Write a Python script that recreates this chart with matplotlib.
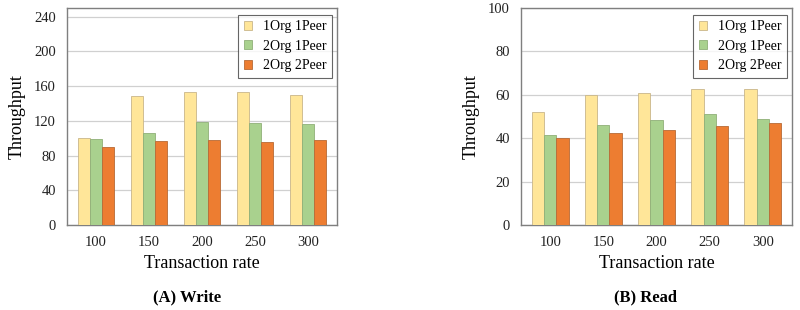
import matplotlib
matplotlib.use("Agg")
import matplotlib.pyplot as plt
import numpy as np

plt.rcParams['font.family'] = ['Liberation Serif', 'DejaVu Serif']

rates = ["100", "150", "200", "250", "300"]
series_names = ["1Org 1Peer", "2Org 1Peer", "2Org 2Peer"]
write_1org1peer = [100, 149, 153, 153, 150]
write_2org1peer = [99, 106, 119, 117, 116]
write_2org2peer = [90, 97, 98, 96, 98]
read_1org1peer = [52, 59.7, 61, 62.5, 62.7]
read_2org1peer = [41.3, 46, 48.3, 51, 49]
read_2org2peer = [40.2, 42.4, 44, 45.7, 47.2]
write_ticks = [0, 40, 80, 120, 160, 200, 240]
read_ticks = [0, 20, 40, 60, 80, 100]

colors = ["#FFE699", "#A9D18E", "#ED7D31"]
edges = ["#C9B68A", "#8FAF78", "#B86A35"]

W, H = 800, 310
fig = plt.figure(figsize=(W/100, H/100), dpi=100)

def make_ax(left, right, top, bottom):
    return fig.add_axes([left/W, 1-bottom/H, (right-left)/W, (bottom-top)/H])

axA = make_ax(67, 337, 8, 225)
axB = make_ax(521, 792, 8, 225)

def draw(ax, data, ticks, ylim):
    x = np.arange(len(rates))
    bw = 0.23
    for i, (vals, c, ec, name) in enumerate(zip(data, colors, edges, series_names)):
        ax.bar(x + (i-1)*bw, vals, bw, color=c, edgecolor=ec, linewidth=0.6, label=name, zorder=3)
    ax.set_xlim(-0.55, 4.55)
    ax.set_ylim(*ylim)
    ax.set_yticks(ticks)
    ax.set_xticks(x)
    ax.set_xticklabels(rates)
    ax.yaxis.grid(True, color="#d0d0d0", linewidth=0.9, zorder=0)
    ax.set_axisbelow(True)
    for s in ax.spines.values():
        s.set_color("#7f7f7f")
        s.set_linewidth(1.0)
    ax.tick_params(length=0, labelsize=10.5, pad=8, colors="#222222")
    ax.set_xlabel("Transaction rate", fontsize=13, labelpad=4)
    ax.set_ylabel("Throughput", fontsize=13, labelpad=6)
    leg = ax.legend(loc="upper right", fontsize=10, frameon=True, fancybox=False,
                    edgecolor="#404040", handlelength=0.6, handleheight=0.6,
                    handletextpad=0.8, borderpad=0.4, labelspacing=0.45,
                    borderaxespad=0, bbox_to_anchor=(0.983, 0.968))
    leg.get_frame().set_linewidth(0.8)

draw(axA, [write_1org1peer, write_2org1peer, write_2org2peer], write_ticks, (0, 250))
draw(axB, [read_1org1peer, read_2org1peer, read_2org2peer], read_ticks, (0, 100))

fig.text(187/W, 1-297/H, "(A) Write", ha="center", va="center", fontsize=12, fontweight="bold")
fig.text(645/W, 1-297/H, "(B) Read", ha="center", va="center", fontsize=12, fontweight="bold")

fig.savefig("out.png", dpi=100, facecolor="white")
